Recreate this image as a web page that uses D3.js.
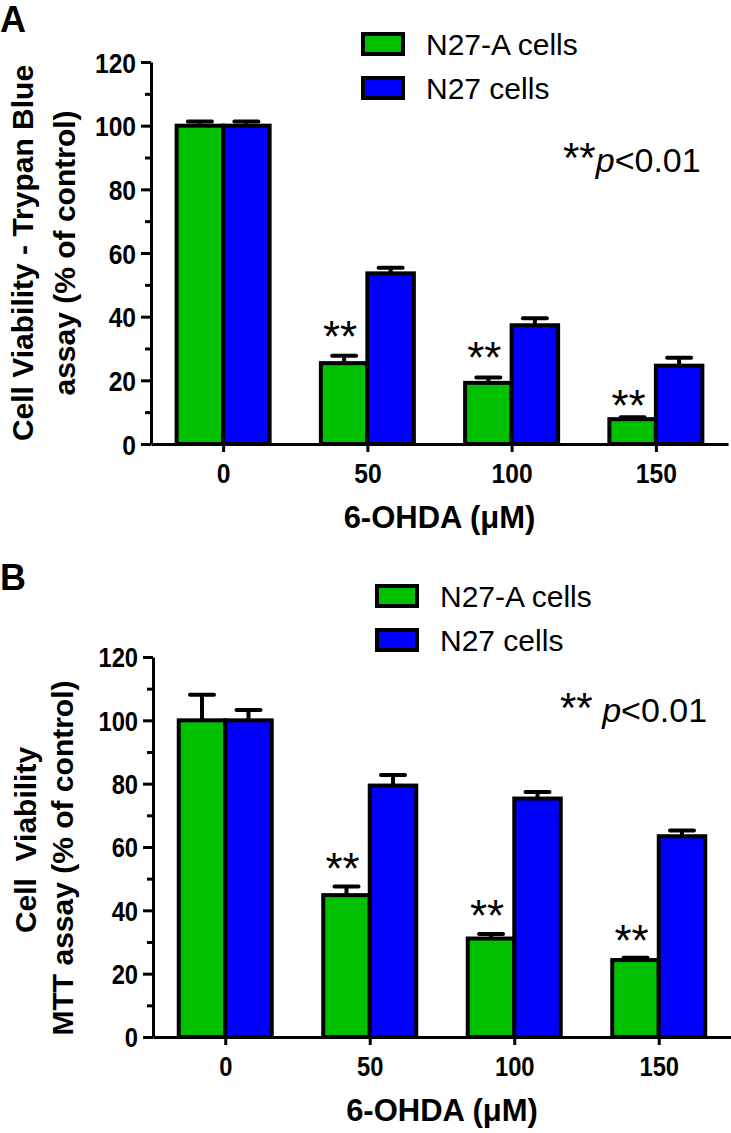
<!DOCTYPE html>
<html>
<head>
<meta charset="utf-8">
<script src="https://cdn.jsdelivr.net/npm/d3@7"></script>
<style>
body { margin:0; background:#fff; }
text { font-family:"Liberation Sans", Arial, sans-serif; }
</style>
</head>
<body>
<svg id="graph" width="731" height="1133"></svg>
<script>
var doses = ["0", "50", "100", "150"];
var seriesNames = ["N27-A cells", "N27 cells"];
var seriesColors = ["#00C000", "#0000FF"];

// panel A, trypan blue
var trypanA = [100, 25.4, 19.2, 7.8];
var trypanAerr = [1.3, 2.3, 1.7, 0.6];
var trypanN27 = [100, 53.6, 37.3, 24.6];
var trypanN27err = [1.3, 1.8, 2.2, 2.5];
var trypanStars = [null, 28.8, 22.3, 7.2];

// panel B, MTT
var mttA = [100, 44.8, 31.1, 24.3];
var mttAerr = [8.1, 2.7, 1.4, 0.7];
var mttN27 = [100, 79.4, 75.3, 63.4];
var mttN27err = [3.3, 3.3, 2.1, 1.8];
var mttStars = [null, 48.3, 33.5, 25.6];

var yTicks = [0, 20, 40, 60, 80, 100, 120];
var yMinor = [10, 30, 50, 70, 90, 110];

var svg = d3.select("#graph");

var drawPanel = function(p)
{
  var g = svg.append("g");
  var xScale = d3.scalePoint().domain(doses).range([p.left, p.right]).padding(0.5);
  var yScale = d3.scaleLinear().domain([0, 120]).range([p.bottom, p.top]);
  var barW = 46.5;

  var rows = doses.map(function(d, i) {
    return {dose:d, vals:[p.a[i], p.b[i]], errs:[p.aErr[i], p.bErr[i]], star:p.stars[i]};
  });

  // bars
  rows.forEach(function(r) {
    r.vals.forEach(function(v, k) {
      var x0 = xScale(r.dose) + (k == 0 ? -barW : 0);
      var e = r.errs[k];
      g.append("line")
        .attr("x1", x0 + barW/2).attr("x2", x0 + barW/2)
        .attr("y1", yScale(v)).attr("y2", yScale(v + e))
        .attr("stroke", "black").attr("stroke-width", 4);
      g.append("line")
        .attr("x1", x0 + barW/2 - 12).attr("x2", x0 + barW/2 + 12)
        .attr("y1", yScale(v + e)).attr("y2", yScale(v + e))
        .attr("stroke", "black").attr("stroke-width", 4)
        .attr("stroke-linecap", "round");
      g.append("rect")
        .attr("x", x0).attr("width", barW)
        .attr("y", yScale(v)).attr("height", yScale(0) - yScale(v))
        .attr("fill", seriesColors[k])
        .attr("stroke", "black").attr("stroke-width", 4);
    });
    if (r.star != null) {
      g.append("text")
        .text("**")
        .attr("x", xScale(r.dose) - barW/2 - 4)
        .attr("y", yScale(r.star))
        .attr("text-anchor", "middle")
        .attr("font-size", 44);
    }
  });

  // axes
  var yAxis = d3.axisLeft(yScale).tickValues(yTicks).tickSize(10).tickSizeOuter(0);
  var yAx = g.append("g").attr("transform", "translate(" + p.left + ",0)").call(yAxis);
  yAx.selectAll("text")
    .attr("x", -17).attr("dy", "0.36em")
    .attr("transform", "scale(0.88,1)")
    .attr("font-size", p.tickFont).attr("font-weight", "bold")
    .attr("font-family", "Liberation Sans, Arial, sans-serif").attr("fill", "black");
  var yMin = d3.axisLeft(yScale).tickValues(yMinor).tickSize(6).tickFormat("").tickSizeOuter(0);
  g.append("g").attr("transform", "translate(" + p.left + ",0)").call(yMin)
    .select(".domain").remove();

  var xAxis = d3.axisBottom(xScale).tickSize(8).tickSizeOuter(0);
  var xAx = g.append("g").attr("transform", "translate(0," + p.bottom + ")").call(xAxis);
  xAx.selectAll("text")
    .attr("y", 39).attr("dy", 0)
    .attr("transform", "scale(0.88,1)")
    .attr("font-size", p.tickFont).attr("font-weight", "bold")
    .attr("font-family", "Liberation Sans, Arial, sans-serif").attr("fill", "black");

  g.selectAll(".domain, .tick line").attr("stroke", "black").attr("stroke-width", 3);

  // titles
  g.append("text")
    .text("6-OHDA (\u03BCM)")
    .attr("x", (p.left + p.right) / 2).attr("y", p.bottom + 84)
    .attr("text-anchor", "middle").attr("font-size", 31).attr("font-weight", "bold");

  var midY = (p.top + p.bottom) / 2;
  p.yTitle.forEach(function(line, i) {
    g.append("text")
      .text(line.t)
      .style("white-space", "pre")
      .attr("text-anchor", "middle")
      .attr("transform", "translate(" + line.x + "," + (midY + line.dy) + ") rotate(-90)")
      .attr("font-size", 30).attr("font-weight", "bold");
  });

  g.append("text").text(p.letter)
    .attr("x", 0).attr("y", p.letterY)
    .attr("font-size", 36).attr("font-weight", "bold");

  // legend
  seriesNames.forEach(function(n, k) {
    g.append("rect")
      .attr("x", p.legX).attr("y", p.legY + k * 44)
      .attr("width", 40).attr("height", 20)
      .attr("fill", seriesColors[k])
      .attr("stroke", "black").attr("stroke-width", 4);
    g.append("text").text(n)
      .attr("x", p.legX + 63).attr("y", p.legY + k * 44 + 21)
      .attr("font-size", 30);
  });

  // p value
  var pv = g.append("text").attr("x", p.pX).attr("y", p.pY);
  pv.append("tspan").text("**").attr("font-size", 42);
  pv.append("tspan").text(p.pGap).style("white-space", "pre").attr("font-size", 34);
  pv.append("tspan").text("p").attr("font-size", 34).attr("font-style", "italic");
  pv.append("tspan").text("<0.01").attr("font-size", 34);
}

drawPanel({
  left:151, right:728, top:62, bottom:444,
  a:trypanA, aErr:trypanAerr, b:trypanN27, bErr:trypanN27err, stars:trypanStars,
  tickFont:28,
  yTitle:[{t:"Cell Viability - Trypan Blue", x:33, dy:0}, {t:"assay (% of control)", x:75, dy:0}],
  letter:"A", letterY:32,
  legX:363, legY:34,
  pX:563, pY:172, pGap:""
});

drawPanel({
  left:153, right:731, top:657, bottom:1037,
  a:mttA, aErr:mttAerr, b:mttN27, bErr:mttN27err, stars:mttStars,
  tickFont:27,
  yTitle:[{t:"Cell  Viability", x:36, dy:-7}, {t:"MTT assay (% of control)", x:73, dy:11}],
  letter:"B", letterY:590,
  legX:377, legY:586,
  pX:560, pY:722, pGap:" "
});
</script>
</body>
</html>
